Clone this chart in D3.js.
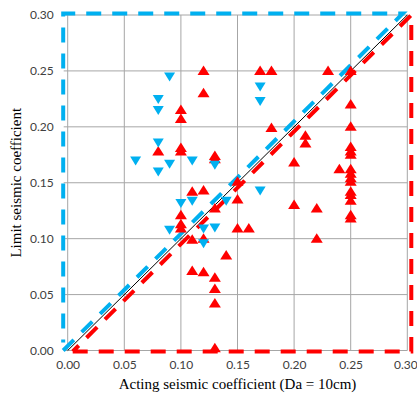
<!DOCTYPE html>
<html>
<head>
<meta charset="utf-8">
<script src="https://cdn.jsdelivr.net/npm/d3@7"></script>
<style>
  body { margin: 0; background: #fff; }
  svg { display: block; }
</style>
</head>
<body>
<div id="chart"></div>
<script>
// tick values for both axes
var ticks = [0, 0.05, 0.10, 0.15, 0.20, 0.25, 0.30];

// red up-triangles [acting, limit]
var redPts = [
  [0.12, 0.250], [0.12, 0.230], [0.10, 0.215], [0.10, 0.207],
  [0.17, 0.250], [0.18, 0.250], [0.23, 0.250], [0.25, 0.250],
  [0.25, 0.220], [0.25, 0.200], [0.18, 0.199], [0.21, 0.192],
  [0.21, 0.185], [0.20, 0.168], [0.24, 0.162],
  [0.25, 0.182], [0.25, 0.178], [0.25, 0.175], [0.25, 0.162],
  [0.25, 0.158], [0.25, 0.154], [0.25, 0.151], [0.25, 0.142],
  [0.25, 0.139], [0.25, 0.134], [0.25, 0.121], [0.25, 0.118],
  [0.20, 0.130], [0.22, 0.127], [0.22, 0.100],
  [0.08, 0.178], [0.10, 0.181], [0.10, 0.178], [0.13, 0.174],
  [0.13, 0.171], [0.11, 0.142], [0.12, 0.143], [0.15, 0.151],
  [0.15, 0.135], [0.13, 0.127], [0.10, 0.121], [0.10, 0.113],
  [0.10, 0.109], [0.11, 0.099], [0.12, 0.100], [0.15, 0.109],
  [0.16, 0.109], [0.14, 0.085], [0.11, 0.071], [0.12, 0.070],
  [0.13, 0.065], [0.13, 0.055], [0.13, 0.042], [0.13, 0.002]
];

// blue down-triangles [acting, limit]
var bluePts = [
  [0.09, 0.245], [0.08, 0.225], [0.08, 0.215], [0.17, 0.236],
  [0.17, 0.223], [0.08, 0.186], [0.06, 0.170], [0.09, 0.167],
  [0.08, 0.160], [0.11, 0.170], [0.13, 0.166], [0.10, 0.132],
  [0.11, 0.134], [0.14, 0.134], [0.17, 0.143], [0.09, 0.108],
  [0.12, 0.109], [0.13, 0.110], [0.12, 0.096]
];

var width = 417, height = 396;

var x = d3.scaleLinear().domain([0, 0.3]).range([67.7, 407.3]);
var y = d3.scaleLinear().domain([0, 0.3]).range([350.5, 15]);

var svg = d3.select("#chart").append("svg")
    .attr("width", width)
    .attr("height", height);

// grid
var grid = svg.append("g");
grid.selectAll(".vg").data(ticks).enter().append("line")
    .attr("x1", function(d) { return x(d); })
    .attr("x2", function(d) { return x(d); })
    .attr("y1", y(0.3))
    .attr("y2", y(0))
    .attr("stroke", "#a6a6a6")
    .attr("stroke-width", 1);
grid.selectAll(".hg").data(ticks).enter().append("line")
    .attr("x1", x(0) - 4)
    .attr("x2", x(0.3))
    .attr("y1", function(d) { return y(d); })
    .attr("y2", function(d) { return y(d); })
    .attr("stroke", "#a6a6a6")
    .attr("stroke-width", 1);

// axes (labels only, lines come from grid)
var xAxis = d3.axisBottom(x).tickValues(ticks).tickSize(0).tickPadding(10)
    .tickFormat(d3.format(".2f"));
var yAxis = d3.axisLeft(y).tickValues(ticks).tickSize(0).tickPadding(14)
    .tickFormat(d3.format(".2f"));

var gx = svg.append("g").attr("transform", "translate(0," + y(0) + ")").call(xAxis);
var gy = svg.append("g").attr("transform", "translate(" + x(0) + ",0)").call(yAxis);
[gx, gy].forEach(function(g) {
  g.select(".domain").remove();
  g.selectAll("text")
    .attr("font-family", "Lato, 'Open Sans', sans-serif")
    .attr("font-size", 12)
    .attr("fill", "#404040");
});
// last x label sits right at the window edge
gx.selectAll("text").filter(function(d) { return d === 0.3; })
    .attr("text-anchor", "end")
    .attr("dx", 10);

// dashed envelopes
var blueLine = [
  [x(0) - 4.5, y(0)],
  [x(0.3) - 4.5, y(0.3) - 1.5],
  [x(0) - 4.5, y(0.3) - 1.5],
  [x(0) - 4.5, y(0) - 8]
];
svg.append("path")
    .attr("d", d3.line()(blueLine))
    .attr("fill", "none")
    .attr("stroke", "#00b0f0")
    .attr("stroke-width", 4)
    .attr("stroke-dasharray", "15,11");

var redLine = [
  [x(0) + 5, y(0) + 1],
  [x(0.3) + 4, y(0) + 1],
  [x(0.3) + 4, y(0.3)],
  [x(0) + 5, y(0) + 1]
];
svg.append("path")
    .attr("d", d3.line()(redLine))
    .attr("fill", "none")
    .attr("stroke", "#ff0000")
    .attr("stroke-width", 4)
    .attr("stroke-dasharray", "15,11");

// 1:1 line
svg.append("line")
    .attr("x1", x(0)).attr("y1", y(0))
    .attr("x2", x(0.3)).attr("y2", y(0.3))
    .attr("stroke", "#000")
    .attr("stroke-width", 1);

// markers
svg.selectAll(".red").data(redPts).enter().append("path")
    .attr("class", "red")
    .attr("d", "M0,-5.5L6,4L-6,4Z")
    .attr("transform", function(d) { return "translate(" + x(d[0]) + "," + y(d[1]) + ")"; })
    .attr("fill", "#ff0000");

svg.selectAll(".blue").data(bluePts).enter().append("path")
    .attr("class", "blue")
    .attr("d", "M-5.5,-4L5.5,-4L0,5Z")
    .attr("transform", function(d) { return "translate(" + x(d[0]) + "," + y(d[1]) + ")"; })
    .attr("fill", "#00b0f0");

// titles
svg.append("text")
    .attr("x", (x(0) + x(0.3)) / 2)
    .attr("y", 389)
    .attr("text-anchor", "middle")
    .attr("font-family", "'Liberation Serif', 'Times New Roman', serif")
    .attr("font-size", 15)
    .attr("fill", "#000")
    .text("Acting seismic coefficient (Da = 10cm)");

svg.append("text")
    .attr("transform", "translate(21," + (y(0.15)) + ") rotate(-90)")
    .attr("text-anchor", "middle")
    .attr("font-family", "'Liberation Serif', 'Times New Roman', serif")
    .attr("font-size", 15)
    .attr("fill", "#000")
    .text("Limit seismic coefficient");
</script>
</body>
</html>
